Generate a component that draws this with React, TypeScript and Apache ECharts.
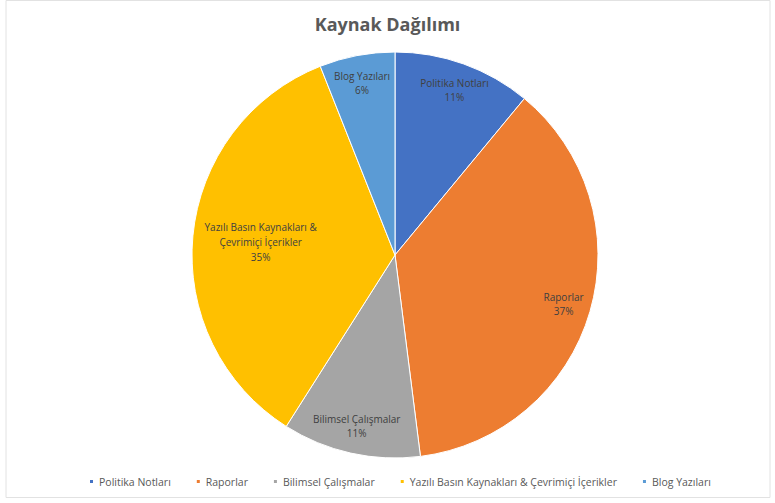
import React, { useEffect, useRef } from "react";
import * as echarts from "echarts";

const categories = [
  "Politika Notları",
  "Raporlar",
  "Bilimsel Çalışmalar",
  "Yazılı Basın Kaynakları & Çevrimiçi İçerikler",
  "Blog Yazıları",
];
const labelTexts = [
  "Politika Notları",
  "Raporlar",
  "Bilimsel Çalışmalar",
  "Yazılı Basın Kaynakları &\nÇevrimiçi İçerikler",
  "Blog Yazıları",
];
const values = [11, 37, 11, 35, 6];
const colors = ["#4472C4", "#ED7D31", "#A5A5A5", "#FFC000", "#5B9BD5"];
const titleText = "Kaynak Dağılımı";

export default function App() {
  const ref = useRef<HTMLDivElement>(null);
  useEffect(() => {
    if (!ref.current) return;
    const chart = echarts.init(ref.current, null, { renderer: "svg" });
    const font = "'Open Sans', 'Noto Sans', sans-serif";
    const R = 203;
    const center = [395, 255];
    const baseData = categories.map((c, i) => ({
      name: c,
      value: values[i],
      itemStyle: { color: colors[i] },
    }));
    const labelCfg = (show: (i: number) => boolean) =>
      categories.map((c, i) => ({
        name: c,
        value: values[i],
        itemStyle: { color: "rgba(0,0,0,0)", borderWidth: 0 },
        label: {
          show: show(i),
          formatter: () => `${labelTexts[i]}\n${values[i]}%`,
        },
      }));
    const labelStyle = {
      position: "inside",
      fontFamily: font,
      fontSize: 10,
      color: "#404040",
      lineHeight: 14,
      align: "center",
    };
    chart.setOption({
      animation: false,
      color: colors,
      title: {
        text: titleText,
        left: "center",
        top: 10,
        textStyle: {
          fontFamily: font,
          fontSize: 18,
          fontWeight: "bold",
          color: "#595959",
        },
      },
      legend: {
        bottom: 11,
        left: 83,
        itemWidth: 5,
        itemHeight: 5,
        itemGap: 24,
        icon: "rect",
        data: categories,
        textStyle: { fontFamily: font, fontSize: 10.5, color: "#595959" },
      },
      graphic: [
        {
          type: "rect",
          shape: { x: 6, y: 0.5, width: 764, height: 497 },
          style: { fill: "none", stroke: "#e2e2e2", lineWidth: 1 },
          silent: true,
          z: -10,
        },
      ],
      series: [
        {
          type: "pie",
          center,
          radius: [0, R],
          startAngle: 90,
          clockwise: true,
          data: baseData,
          label: { show: false },
          labelLine: { show: false },
          itemStyle: { borderColor: "#ffffff", borderWidth: 1 },
          silent: true,
        },
        {
          type: "pie",
          center,
          radius: [R * 0.7, R],
          startAngle: 90,
          clockwise: true,
          data: labelCfg((i) => i !== 3),
          label: labelStyle,
          labelLine: { show: false },
          silent: true,
          z: 3,
        },
        {
          type: "pie",
          center,
          radius: [R * 0.3, R],
          startAngle: 90,
          clockwise: true,
          data: labelCfg((i) => i === 3),
          label: { ...labelStyle, lineHeight: 15 },
          labelLine: { show: false },
          silent: true,
          z: 3,
        },
      ],
    });
    return () => chart.dispose();
  }, []);
  return (
    <div
      ref={ref}
      style={{
        position: "fixed",
        left: 0,
        top: 0,
        width: 775,
        height: 503,
        background: "#ffffff",
      }}
    />
  );
}
